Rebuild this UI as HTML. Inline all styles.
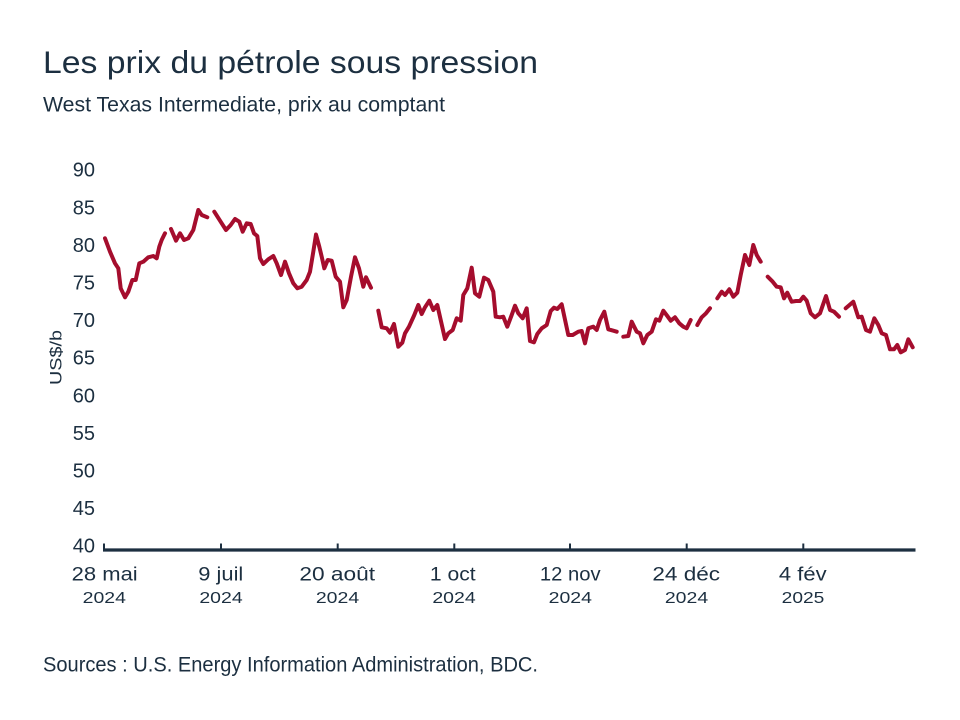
<!DOCTYPE html>
<html><head><meta charset="utf-8"><style>
html,body{margin:0;padding:0;background:#fff;}
svg{display:block;}
text{font-family:"Liberation Sans",sans-serif;fill:#1c2f40;}
</style></head><body>
<svg width="960" height="720" viewBox="0 0 960 720" xmlns="http://www.w3.org/2000/svg">
<rect width="960" height="720" fill="#fff"/>
<text x="43" y="73" font-size="31.5" textLength="495" lengthAdjust="spacingAndGlyphs">Les prix du pétrole sous pression</text>
<text x="43" y="111.5" font-size="21.5" textLength="402" lengthAdjust="spacingAndGlyphs">West Texas Intermediate, prix au comptant</text>
<text x="43" y="671.5" font-size="21" textLength="495" lengthAdjust="spacingAndGlyphs">Sources : U.S. Energy Information Administration, BDC.</text>

<g font-size="20" text-anchor="end">
<text x="95" y="176.7">90</text>
<text x="95" y="214.3">85</text>
<text x="95" y="251.9">80</text>
<text x="95" y="289.5">75</text>
<text x="95" y="327.1">70</text>
<text x="95" y="364.7">65</text>
<text x="95" y="402.3">60</text>
<text x="95" y="439.9">55</text>
<text x="95" y="477.5">50</text>
<text x="95" y="515.1">45</text>
<text x="95" y="552.7">40</text>
</g>
<text transform="translate(61.5,357.5) rotate(-90)" font-size="17" text-anchor="middle" textLength="55" lengthAdjust="spacingAndGlyphs">US$/b</text>

<g stroke="#1c2f40" stroke-width="2">
<line x1="104" y1="543.5" x2="104" y2="550"/>
<line x1="221" y1="543.5" x2="221" y2="550"/>
<line x1="337.7" y1="543.5" x2="337.7" y2="550"/>
<line x1="454.3" y1="543.5" x2="454.3" y2="550"/>
<line x1="570" y1="543.5" x2="570" y2="550"/>
<line x1="686.7" y1="543.5" x2="686.7" y2="550"/>
<line x1="803.3" y1="543.5" x2="803.3" y2="550"/>
</g>
<line x1="103" y1="550" x2="915.5" y2="550" stroke="#1c2f40" stroke-width="3.2"/>

<g font-size="19" text-anchor="middle">
<text x="104.7" y="580.7" textLength="66" lengthAdjust="spacingAndGlyphs">28 mai</text>
<text x="220.8" y="580.7" textLength="45" lengthAdjust="spacingAndGlyphs">9 juil</text>
<text x="337.2" y="580.7" textLength="75.7" lengthAdjust="spacingAndGlyphs">20 août</text>
<text x="452.8" y="580.7" textLength="45.7" lengthAdjust="spacingAndGlyphs">1 oct</text>
<text x="570.3" y="580.7" textLength="60.7" lengthAdjust="spacingAndGlyphs">12 nov</text>
<text x="686.2" y="580.7" textLength="67.7" lengthAdjust="spacingAndGlyphs">24 déc</text>
<text x="802.8" y="580.7" textLength="47.7" lengthAdjust="spacingAndGlyphs">4 fév</text>
</g>
<g font-size="16" text-anchor="middle">
<text x="104.3" y="603" textLength="43.3" lengthAdjust="spacingAndGlyphs">2024</text>
<text x="221" y="603" textLength="43.3" lengthAdjust="spacingAndGlyphs">2024</text>
<text x="337.5" y="603" textLength="43.3" lengthAdjust="spacingAndGlyphs">2024</text>
<text x="454" y="603" textLength="43.3" lengthAdjust="spacingAndGlyphs">2024</text>
<text x="570.3" y="603" textLength="43.3" lengthAdjust="spacingAndGlyphs">2024</text>
<text x="686.5" y="603" textLength="43.3" lengthAdjust="spacingAndGlyphs">2024</text>
<text x="803" y="603" textLength="42.7" lengthAdjust="spacingAndGlyphs">2025</text>
</g>

<g fill="none" stroke="#a50d2d" stroke-width="4" stroke-linejoin="round" stroke-linecap="round">
<polyline points="105,238.3 110,251.7 115,263.3 118.3,268.3 120.7,288.3 125,297.3 128.3,291.7 132.3,280 135.7,280 139.3,263.3 143.3,261.7 148.3,257.3 153.3,256 156.7,258.3 159.3,246.7 161.7,240 165,233.3"/>
<polyline points="171,229 176,240.7 180,233.3 184,240 188.3,238.3 193.3,230 198.3,210 201.7,215 207.3,217.3"/>
<polyline points="214.3,211.7 221.7,223.3 226,230 230.7,225 235,219 239.3,221.7 242.7,231.7 246.7,223.3 250.7,224 254,233.3 257.3,236 260,258.3 263.3,264 268.3,259.3 273.3,256 276.7,263.3 281,275 285,261.7 289,273.3 293.3,283.3 297.3,288.3 301.7,286.7 306.7,280 310,271.7 313.3,251.7 316,234.5 319.3,246.7 321.7,256.7 324.3,268.3 327.7,260 331.7,260.7 335.7,276.7 340,281.7 343.3,307.3 346.7,300 351,276.7 355,257.3 359,268.3 363.3,286.7 366,277.3 371,287.7"/>
<polyline points="378.3,310.7 381.7,327.3 386.7,328.3 390,332.7 394,324 398.3,346.7 402.3,342.7 405,333.3 409,326.7 414.3,315 418.3,305 421.7,314 425,307.3 429.3,300.7 433.3,310 437.3,305 440.7,320 445,339 448.3,333.3 452.7,330 456.7,318.3 460.7,320.7 463.3,295 467.3,288.3 471.7,267.7 475,293.3 479.3,296.7 484,277.7 488.3,280 493.3,291.7 495.7,316.7 500,317.3 503.3,316.7 507.3,326.7 511.7,315 515,305.7 518.3,313.3 522.7,318.3 526.7,308.3 530,341 534,342.3 537.3,334 541.7,328.3 546.7,325 550.7,311 554,307.7 557.3,309 561.7,304.3 568.3,335 572.7,335 578.3,331.7 581.7,331 585,343.3 588.3,328.3 593.3,326.7 596.7,330 600,320 604.3,311.7 608.3,329.3 613.3,330.7 616.7,331.7"/>
<polyline points="623.3,336.7 628.3,336 631.7,321.7 636.7,331.7 640,333.3 643.3,343.3 647.3,335 651.7,331.7 656,319.3 659.3,320.7 663.3,310.7 667.3,316 670.7,320.7 675,317.3 679.3,323.3 683.3,326.7 686.7,328.3 690.7,320"/>
<polyline points="697.3,325 701.7,317.3 706,313.3 710,308.3"/>
<polyline points="717.3,298.3 721.7,291.7 725,295 729.3,289.3 733.3,296.7 737.3,292.7 740.7,275 745,255 749.3,265 753.3,245 756.7,255 760.7,261.7"/>
<polyline points="767.7,276.7 772.7,281.7 776.7,286.7 780.7,287.3 784,298.3 787.3,292.7 791.7,301.7 796,301 800,301 803.3,296.7 806.7,300.7 810.7,313.3 815,317.3 820,313.3 826,296 830,310 834,311.7 839,316.7"/>
<polyline points="845.7,308.3 853.3,301.7 858.3,317.3 861.7,316.7 866,330 870,331.7 874.3,318.3 878.3,325 881.7,333.3 886,335 890,349.3 894,349.3 897.3,345 900.7,352.3 905,350 908.3,339.3 912.7,347.3"/>
</g>
</svg>
</body></html>
